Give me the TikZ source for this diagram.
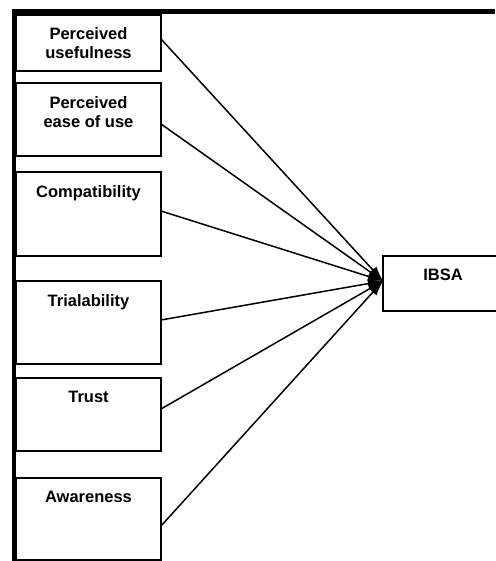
\documentclass[tikz,border=0pt]{standalone}
\usepackage{fontspec}
\setmainfont{Liberation Sans}
\usetikzlibrary{positioning, arrows.meta}
\tikzset{
	factorbox/.style={
			draw=black,
			line width=1.5pt,
			fill=white,
			minimum width=145pt,
			inner sep=0pt,
			outer sep=0pt,
			align=center,
			font=\fontsize{16.5}{19}\selectfont\bfseries
		},
	toplabel/.style={
			anchor=north,
			inner sep=0pt,
			yshift=-13pt,
			align=center,
			font=\fontsize{16.5}{19}\selectfont\bfseries
		},
	influence/.style={
			-{Latex[length=15pt,width=10pt]},
			line width=1.5pt
		}
}

\begin{document}
\begin{tikzpicture}[x=1pt,y=-1pt]
        \useasboundingbox (0,0) rectangle (495,561);

        % frame
        \draw[line width=5pt] (12,11.5) -- (495,11.5);
        \draw[line width=4pt] (14,9) -- (14,561);

        \node[factorbox, minimum height=56pt] at (88.5,43) (pu) {Perceived\\usefulness};
        \node[factorbox, minimum height=73pt, below = 12pt of pu,
              label={[toplabel]north:Perceived\\ease of use}] (peou) {};
        \node[factorbox, minimum height=84pt, below = 16pt of peou,
              label={[toplabel]north:Compatibility}] (comp) {};
        \node[factorbox, minimum height=83pt, below = 25pt of comp,
              label={[toplabel]north:Trialability}] (trial) {};
        \node[factorbox, minimum height=73pt, below = 14pt of trial,
              label={[toplabel]north:Trust}] (trust) {};
        \node[factorbox, minimum height=82pt, below = 27pt of trust,
              label={[toplabel]north:Awareness}] (aware) {};

        \node[factorbox, minimum width=120pt, minimum height=55pt,
              label={[toplabel]north:IBSA}] at (443,283.5) (ibsa) {};
        \coordinate (hub) at ([yshift=2.5pt]ibsa.west);

        \draw[influence] ([yshift=4pt]pu.east) -- (hub);
        \draw[influence] ([yshift=-4.5pt]peou.east) -- (hub);
        \draw[influence] ([yshift=3pt]comp.east) -- (hub);
        \draw[influence] ([yshift=2.5pt]trial.east) -- (hub);
        \draw[influence] ([yshift=5.5pt]trust.east) -- (hub);
        \draw[influence] ([yshift=-7pt]aware.east) -- (hub);
      \end{tikzpicture}
\end{document}
